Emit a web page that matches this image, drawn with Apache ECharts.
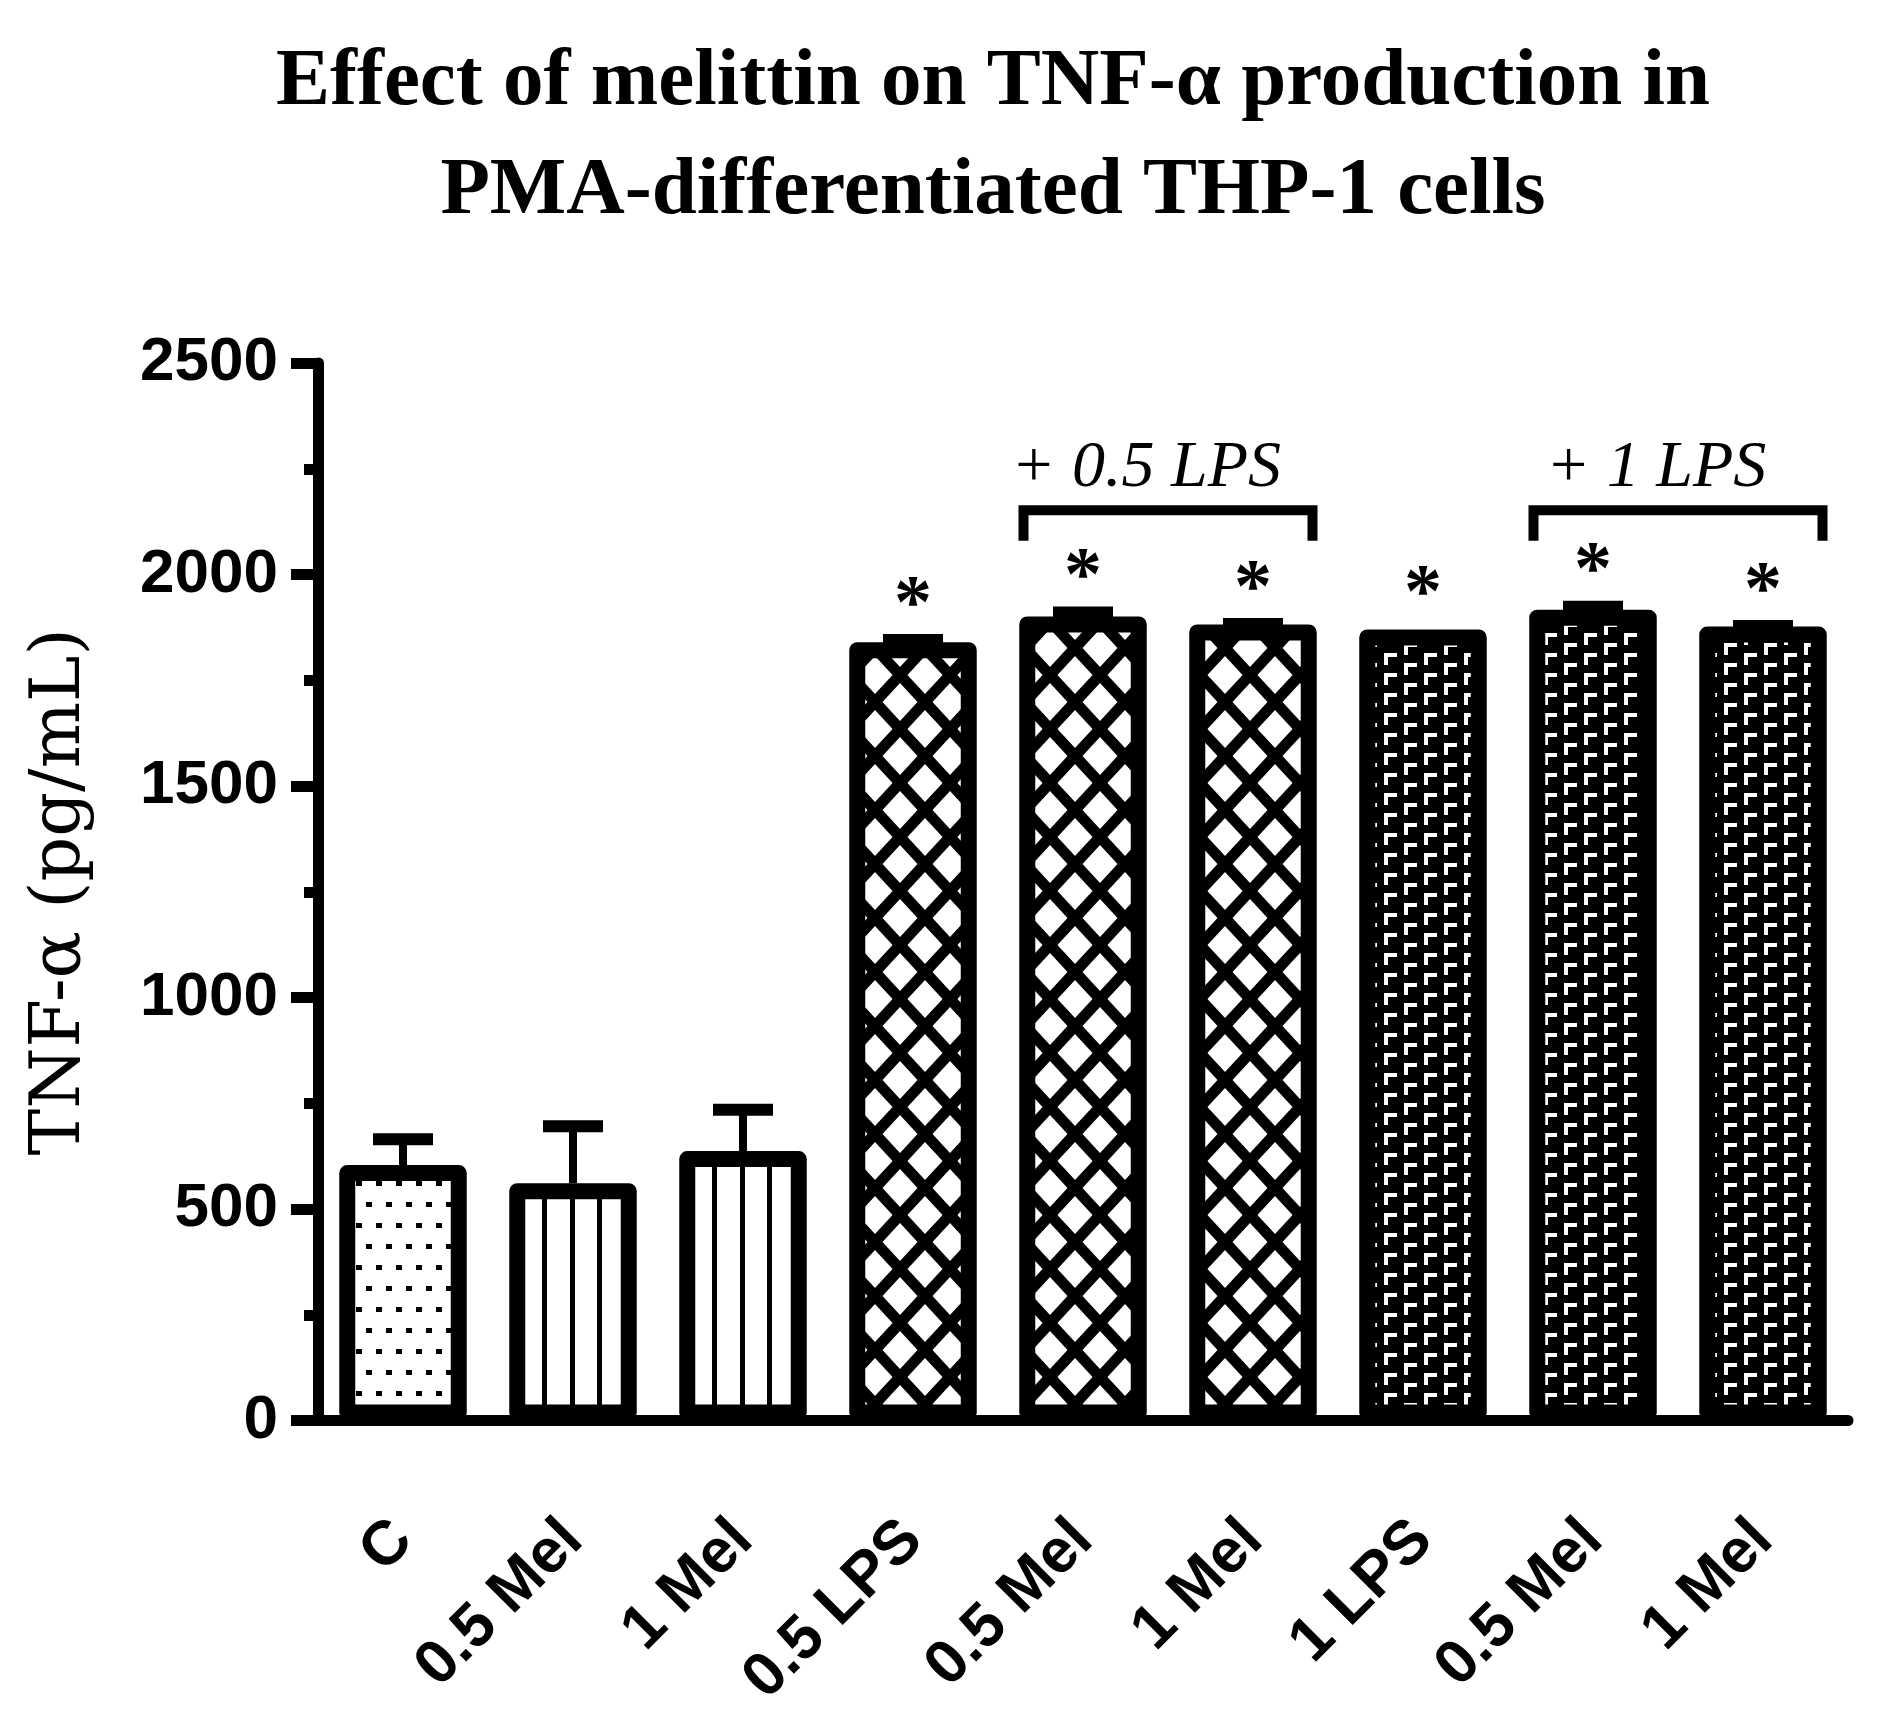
<!DOCTYPE html>
<html>
<head>
<meta charset="utf-8">
<title>TNF-α production</title>
<script src="https://cdn.jsdelivr.net/npm/echarts@6/dist/echarts.min.js"></script>
<style>
  html, body { margin: 0; padding: 0; background: #fff; }
  #chart { width: 1880px; height: 1713px; }
</style>
</head>
<body>
<div id="chart"></div>
<script>
// values (pg/mL)
const categories = ['C', '0.5 Mel', '1 Mel', '0.5 LPS', '0.5 Mel', '1 Mel', '1 LPS', '0.5 Mel', '1 Mel'];
const meanValues = [604, 561, 637, 1840, 1901, 1882, 1870, 1917, 1877];
const errorValues = [61, 135, 98, 5, 9, 1, 0, 7, 1];
const significant = [false, false, false, true, true, true, true, true, true];
const yTicks = [0, 500, 1000, 1500, 2000, 2500];

// group brackets: first bar, last bar, label
const bracketStart = [4, 7];
const bracketEnd = [5, 8];
const bracketLabels = ['+ 0.5 LPS', '+ 1 LPS'];
const bracketLevel = 2152;
const bracketFoot = 2080;
const bracketLabelLevel = 2250;

// fill pattern per bar
const fillKeys = ['dots', 'vlines', 'vlines', 'cross', 'cross', 'cross', 'gamma', 'gamma', 'gamma'];

function makeTile(w, h, draw) {
  const c = document.createElement('canvas');
  c.width = w;
  c.height = h;
  const ctx = c.getContext('2d');
  draw(ctx, w, h);
  return { image: c, repeat: 'repeat' };
}

const patterns = {
  dots: makeTile(20, 42, function (ctx, w, h) {
    ctx.fillStyle = '#fff';
    ctx.fillRect(0, 0, w, h);
    ctx.fillStyle = '#000';
    ctx.fillRect(6, 26, 6, 5);
    ctx.fillRect(16, 5, 4, 5);
    ctx.fillRect(0, 5, 2, 5);
  }),
  vlines: makeTile(170, 10, function (ctx, w, h) {
    ctx.fillStyle = '#fff';
    ctx.fillRect(0, 0, w, h);
    ctx.fillStyle = '#000';
    [35, 63, 90].forEach(function (x) {
      ctx.fillRect(x - 3, 0, 5, h);
    });
  }),
  cross: makeTile(50, 54, function (ctx, w, h) {
    ctx.fillStyle = '#fff';
    ctx.fillRect(0, 0, w, h);
    ctx.strokeStyle = '#000';
    ctx.lineWidth = 11;
    for (let k = -2; k <= 2; k++) {
      const x0 = 25 + 50 * k;
      ctx.beginPath();
      ctx.moveTo(x0 - 50, -54);
      ctx.lineTo(x0 + 100, 108);
      ctx.stroke();
      ctx.beginPath();
      ctx.moveTo(x0 + 50, -54);
      ctx.lineTo(x0 - 100, 108);
      ctx.stroke();
    }
  }),
  gamma: makeTile(40, 20, function (ctx, w, h) {
    ctx.fillStyle = '#000';
    ctx.fillRect(0, 0, w, h);
    ctx.fillStyle = '#fff';
    ctx.fillRect(4, 3, 13, 4);
    ctx.fillRect(4, 3, 4, 12);
    ctx.fillRect(24, 13, 13, 4);
    ctx.fillRect(24, 13, 4, 7);
    ctx.fillRect(24, 0, 4, 5);
  })
};

function renderErrorBar(params, api) {
  const x = api.value(0);
  const mean = api.value(1);
  const err = api.value(2);
  const base = api.coord([x, mean]);
  const top = api.coord([x, mean + err]);
  const children = [];
  if (err > 0) {
    children.push(
      { type: 'line', shape: { x1: top[0], y1: base[1], x2: top[0], y2: top[1] },
        style: { stroke: '#000', lineWidth: 8 } },
      { type: 'line', shape: { x1: top[0] - 30, y1: top[1], x2: top[0] + 30, y2: top[1] },
        style: { stroke: '#000', lineWidth: 12 } }
    );
  }
  if (significant[params.dataIndex]) {
    children.push({
      type: 'text',
      style: {
        text: '*', x: top[0], y: top[1] - 33,
        fill: '#000', align: 'center', verticalAlign: 'middle',
        font: 'bold 76px "Liberation Serif"'
      }
    });
  }
  return { type: 'group', children: children };
}

function renderBracket(params, api) {
  const i = params.dataIndex;
  const half = api.size([1, 0])[0] * 0.35;
  const left = api.coord([api.value(0), bracketLevel]);
  const right = api.coord([api.value(1), bracketLevel]);
  const foot = api.coord([api.value(0), bracketFoot]);
  const label = api.coord([api.value(0), bracketLabelLevel]);
  const x1 = left[0] - half;
  const x2 = right[0] + half;
  return {
    type: 'group',
    children: [
      { type: 'polyline',
        shape: { points: [[x1, foot[1]], [x1, left[1]], [x2, left[1]], [x2, foot[1]]] },
        style: { stroke: '#000', lineWidth: 10, fill: null, lineJoin: 'miter' } },
      { type: 'text',
        style: {
          text: bracketLabels[i], x: (x1 + x2) / 2 - 22, y: label[1],
          fill: '#000', align: 'center', verticalAlign: 'middle',
          font: 'italic 66px "Liberation Serif"'
        } }
    ]
  };
}

const chart = echarts.init(document.getElementById('chart'));

const option = {
  animation: false,
  backgroundColor: '#fff',
  title: {
    text: 'Effect of melittin on TNF-α production in\nPMA-differentiated THP-1 cells',
    left: 988,
    top: 24,
    textAlign: 'center',
    textStyle: {
      fontFamily: 'Liberation Serif',
      fontWeight: 'bold',
      fontSize: 81,
      lineHeight: 109,
      color: '#000'
    }
  },
  grid: { left: 318, right: 32, top: 363, bottom: 282, containLabel: false },
  xAxis: {
    type: 'category',
    data: categories,
    axisLine: { lineStyle: { color: '#000', width: 11 } },
    axisTick: { alignWithLabel: true, length: 31, lineStyle: { color: '#000', width: 11 } },
    axisLabel: {
      rotate: 45,
      margin: 110,
      interval: 0,
      color: '#000',
      fontFamily: 'Liberation Sans',
      fontWeight: 'bold',
      fontSize: 62
    }
  },
  yAxis: {
    type: 'value',
    min: yTicks[0],
    max: yTicks[yTicks.length - 1],
    interval: yTicks[1] - yTicks[0],
    name: 'TNF-α (pg/mL)',
    nameLocation: 'middle',
    nameGap: 222,
    nameTextStyle: { fontFamily: 'DejaVu Serif', fontSize: 70, color: '#000' },
    axisLine: { show: true, lineStyle: { color: '#000', width: 11 } },
    axisTick: { show: true, length: 27, lineStyle: { color: '#000', width: 11 } },
    minorTick: { show: true, splitNumber: 2, length: 14, lineStyle: { color: '#000', width: 11 } },
    splitLine: { show: false },
    axisLabel: {
      margin: 40,
      color: '#000',
      fontFamily: 'Liberation Sans',
      fontWeight: 'bold',
      fontSize: 62,
      formatter: function (v) { return String(v); }
    }
  },
  series: [
    {
      type: 'custom',
      z: 1,
      renderItem: renderErrorBar,
      encode: { x: 0, y: [1, 2] },
      data: meanValues.map(function (v, i) { return [i, v, errorValues[i]]; })
    },
    {
      type: 'bar',
      z: 2,
      barWidth: '75%',
      data: meanValues.map(function (v, i) {
        return {
          value: v,
          itemStyle: {
            color: patterns[fillKeys[i]],
            borderColor: '#000',
            borderWidth: 16,
            borderJoin: 'round'
          }
        };
      })
    },
    {
      type: 'custom',
      z: 3,
      renderItem: renderBracket,
      encode: { x: [0, 1] },
      data: bracketStart.map(function (s, i) { return [s, bracketEnd[i]]; })
    }
  ]
};

chart.setOption(option);
</script>
</body>
</html>
